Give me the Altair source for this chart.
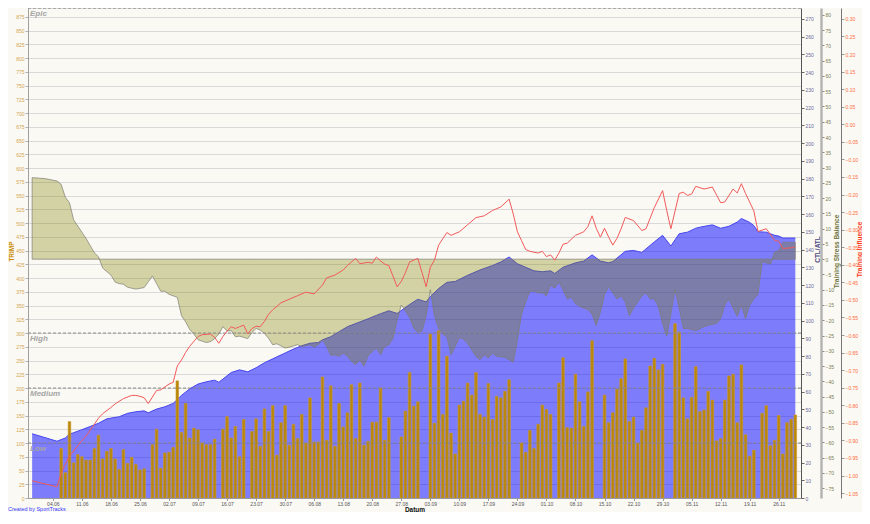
import altair as alt
import pandas as pd

YEAR = 2012

# ---------------- data ----------------
# daily TRIMP from 06-06 to 11-30 (0 = rest day, no bar)
trimp_start = "2012-06-06"
trimp = [
    # June 6..30
    90, 46, 139, 64, 79, 75, 69, 69, 90, 114, 71, 85, 90, 71, 52, 88, 63, 74, 61, 51, 53, 0, 97, 125, 54,
    # July
    82, 83, 92, 213, 119, 172, 109, 127, 124, 100, 97, 97, 107, 0, 125, 148, 109, 130, 75, 143, 0,
    121, 144, 94, 162, 121, 168, 78, 137, 168, 96,
    # August
    134, 108, 152, 100, 182, 102, 102, 220, 105, 204, 94, 172, 129, 155, 206, 108, 209, 96, 103, 138,
    138, 200, 105, 146, 0, 0, 111, 158, 228, 167, 175,
    # September
    0, 0, 298, 136, 304, 152, 258, 118, 80, 169, 176, 209, 187, 228, 152, 147, 208, 143, 185, 182,
    194, 215, 0, 0, 100, 83, 123, 90, 134, 169,
    # October
    161, 152, 0, 209, 255, 128, 127, 225, 175, 130, 193, 286, 0, 0, 187, 137, 155, 198, 217, 253,
    139, 147, 100, 123, 164, 240, 254, 233, 243, 0, 0,
    # November
    317, 302, 182, 144, 183, 239, 157, 160, 194, 178, 104, 108, 178, 222, 225, 137, 242, 115, 76, 87,
    0, 154, 168, 95, 105, 150, 80, 137, 143, 151,
]

ctl_days = ["05-30", "06-05", "06-07", "06-08", "06-09", "06-11", "06-13", "06-15", "06-17", "06-20",
            "06-22", "06-24", "06-26", "06-27", "06-29", "07-01", "07-03", "07-04", "07-05", "07-07",
            "07-09", "07-11", "07-13", "07-14", "07-15", "07-16", "07-17", "07-19", "07-21", "07-23",
            "07-25", "07-27", "07-30", "08-01", "08-03", "08-05", "08-07", "08-08", "08-10", "08-12",
            "08-14", "08-17", "08-19", "08-21", "08-22", "08-24", "08-26", "08-29", "08-31", "09-02",
            "09-03", "09-05", "09-07", "09-09", "09-12", "09-15", "09-18", "09-20", "09-22", "09-24",
            "09-26", "09-28", "09-30", "10-02", "10-03", "10-05", "10-08", "10-10", "10-12", "10-14",
            "10-16", "10-17", "10-20", "10-22", "10-24", "10-27", "10-29", "10-31", "11-02", "11-04",
            "11-06", "11-07", "11-10", "11-12", "11-14", "11-16", "11-17", "11-19", "11-20", "11-21",
            "11-23", "11-25", "11-26", "11-27", "11-30"]
ctl = [36.2, 32.0, 33.8, 36.0, 36.8, 38.5, 40.3, 42.1, 44.6, 45.8,
       47.7, 48.6, 49.1, 48.0, 50.1, 51.4, 53.3, 55.5, 57.8, 61.5,
       64.2, 65.5, 66.4, 65.2, 67.0, 68.9, 70.7, 72.2, 71.1, 73.4,
       76.2, 78.4, 81.7, 83.9, 85.8, 87.2, 87.6, 89.1, 90.9, 93.7,
       96.5, 99.2, 101.0, 102.9, 103.8, 105.5, 104.0, 109.0, 112.0, 110.5,
       113.5, 118.0, 121.5, 122.0, 125.5, 128.5, 131.0, 133.0, 135.8, 132.0,
       130.0, 128.0, 127.5, 128.0, 126.5, 130.0, 132.5, 133.5, 137.0, 133.5,
       132.5, 133.2, 139.0, 139.5, 138.4, 144.3, 148.0, 142.0, 148.9, 149.8,
       152.0, 152.6, 153.9, 152.0, 153.1, 155.5, 157.5, 155.3, 153.5, 150.0,
       149.8, 148.0, 147.6, 146.5, 146.5]

atl_days = ["05-30", "06-05", "06-06", "06-07", "06-08", "06-10", "06-12", "06-14", "06-15", "06-16",
            "06-18", "06-19", "06-21", "06-23", "06-24", "06-25", "06-26", "06-27", "06-28", "06-29",
            "06-30", "07-02", "07-03", "07-04", "07-05", "07-06", "07-07", "07-09", "07-10", "07-12",
            "07-13", "07-14", "07-15", "07-16", "07-17", "07-18", "07-19", "07-20", "07-21", "07-22",
            "07-23", "07-24", "07-25", "07-26", "07-27", "07-29", "07-31", "08-02", "08-04", "08-06",
            "08-08", "08-09", "08-11", "08-13", "08-14", "08-16", "08-17", "08-19", "08-20", "08-21",
            "08-22", "08-23", "08-24", "08-25", "08-26", "08-27", "08-28", "08-29", "08-30", "08-31",
            "09-01", "09-02", "09-03", "09-04", "09-05", "09-07", "09-08", "09-10", "09-12", "09-14",
            "09-16", "09-18", "09-20", "09-22", "09-23", "09-24", "09-25", "09-26", "09-27", "09-29",
            "09-30", "10-01", "10-02", "10-03", "10-04", "10-05", "10-06", "10-08", "10-10", "10-11",
            "10-12", "10-13", "10-14", "10-15", "10-16", "10-17", "10-18", "10-19", "10-20", "10-22",
            "10-24", "10-25", "10-27", "10-29", "10-30", "10-31", "11-02", "11-03", "11-04", "11-05",
            "11-06", "11-08", "11-10", "11-12", "11-13", "11-15", "11-16", "11-17", "11-18", "11-20",
            "11-21", "11-23", "11-25", "11-26", "11-27", "11-29", "11-30"]
atl = [9.7, 6.3, 14.0, 19.0, 23.5, 29.5, 35.0, 41.5, 45.0, 47.5,
       51.0, 53.0, 56.0, 57.8, 57.8, 57.3, 56.5, 53.2, 56.9, 60.6,
       60.9, 64.2, 65.2, 74.4, 77.7, 82.0, 85.5, 91.0, 92.0, 92.4,
       90.5, 87.2, 91.0, 94.0, 96.5, 95.5, 96.5, 97.4, 92.5, 95.5,
       96.8, 96.5, 99.5, 103.5, 106.0, 110.0, 112.0, 114.0, 116.0, 115.0,
       120.0, 124.0, 125.6, 128.5, 131.0, 135.0, 132.0, 132.8, 132.3, 135.8,
       133.6, 131.8, 131.0, 125.0, 119.0, 122.0, 127.0, 133.0, 134.0, 135.0,
       127.0, 119.0, 130.0, 134.0, 142.5, 149.6, 148.0, 150.0, 154.0, 158.0,
       159.0, 162.0, 164.0, 168.4, 160.0, 150.0, 145.0, 140.0, 139.0, 138.0,
       139.0, 136.0, 137.0, 134.0, 138.0, 143.0, 143.6, 148.0, 150.0, 153.0,
       159.0, 152.0, 147.0, 152.0, 147.0, 142.5, 146.3, 151.7, 158.1, 156.3,
       150.7, 151.7, 163.6, 173.2, 162.0, 151.7, 171.6, 172.3, 170.5, 171.3,
       175.6, 174.1, 175.2, 166.4, 166.8, 174.1, 171.9, 177.1, 171.6, 161.8,
       150.2, 151.7, 145.2, 144.7, 140.6, 141.0, 141.5]

tsb_days = ["05-30", "06-02", "06-05", "06-06", "06-07", "06-08", "06-09", "06-11", "06-12", "06-14",
            "06-15", "06-16", "06-18", "06-19", "06-20", "06-21", "06-22", "06-24", "06-26", "06-27",
            "06-28", "06-29", "06-30", "07-01", "07-02", "07-03", "07-04", "07-05", "07-06", "07-07",
            "07-08", "07-09", "07-11", "07-12", "07-13", "07-14", "07-15", "07-16", "07-17", "07-18",
            "07-19", "07-20", "07-21", "07-22", "07-23", "07-24", "07-25", "07-26", "07-27", "07-28",
            "07-30", "07-31", "08-02", "08-03", "08-05", "08-06", "08-07", "08-08", "08-09", "08-10",
            "08-11", "08-12", "08-13", "08-14", "08-15", "08-16", "08-17", "08-18", "08-19", "08-20",
            "08-21", "08-22", "08-23", "08-24", "08-25", "08-26", "08-27", "08-28", "08-29", "08-30",
            "08-31", "09-01", "09-02", "09-03", "09-04", "09-05", "09-06", "09-07", "09-08", "09-09",
            "09-10", "09-11", "09-12", "09-13", "09-14", "09-15", "09-16", "09-17", "09-18", "09-19",
            "09-21", "09-22", "09-23", "09-24", "09-25", "09-26", "09-27", "09-28", "09-29", "09-30",
            "10-01", "10-02", "10-03", "10-04", "10-05", "10-06", "10-07", "10-08", "10-09", "10-10",
            "10-11", "10-12", "10-13", "10-14", "10-15", "10-16", "10-17", "10-18", "10-19", "10-20",
            "10-21", "10-22", "10-23", "10-24", "10-25", "10-26", "10-27", "10-28", "10-29", "10-30",
            "10-31", "11-01", "11-02", "11-03", "11-04", "11-06", "11-08", "11-09", "11-11", "11-12",
            "11-13", "11-14", "11-15", "11-16", "11-17", "11-18", "11-19", "11-20", "11-21", "11-22",
            "11-23", "11-24", "11-25", "11-26", "11-27", "11-30"]
tsb = [26.7, 26.4, 25.6, 24.5, 20.3, 18.5, 12.9, 8.8, 6.8, 2.1,
       0.8, -2.9, -5.2, -7.5, -8.0, -8.2, -9.2, -9.8, -9.3, -7.4,
       -5.5, -8.0, -10.5, -10.5, -11.5, -12.0, -12.5, -18.5, -20.5, -23.0,
       -24.5, -26.4, -27.3, -27.0, -26.0, -24.5, -22.1, -23.5, -23.4, -25.4,
       -25.2, -25.6, -26.0, -24.0, -22.7, -23.2, -24.3, -25.9, -28.0, -27.7,
       -29.1, -28.8, -28.0, -28.6, -28.0, -28.8, -28.0, -26.4, -28.5, -31.5,
       -31.3, -31.8, -30.7, -31.8, -33.4, -34.5, -32.9, -35.0, -31.6, -30.2,
       -29.0, -31.3, -28.6, -28.0, -26.0, -20.0, -15.0, -17.0, -19.0, -22.5,
       -24.0, -23.5, -18.5, -10.0, -18.5, -22.7, -24.5, -25.4, -31.3, -28.6,
       -25.6, -26.2, -27.5, -29.7, -31.8, -32.9, -31.3, -32.3, -30.7, -31.8,
       -32.1, -32.9, -33.7, -26.4, -17.9, -14.0, -10.5, -10.5, -11.0, -11.0,
       -12.0, -8.5, -9.5, -7.5, -10.0, -13.0, -12.5, -14.5, -15.5, -16.0,
       -16.5, -18.0, -21.7, -17.4, -11.5, -9.0, -11.0, -13.0, -12.0, -14.0,
       -18.5, -16.0, -14.0, -12.0, -11.0, -13.0, -13.0, -15.5, -21.0, -25.2,
       -17.9, -10.0, -16.0, -22.7, -22.7, -23.4, -22.1, -21.6, -21.1, -19.5,
       -15.0, -13.0, -16.0, -18.7, -15.0, -19.5, -15.0, -13.0, -11.5, -0.8,
       -1.2, -1.6, 2.3, 2.7, 5.5, 5.5]

week_ticks = ["06-04", "06-11", "06-18", "06-25", "07-02", "07-09", "07-16", "07-23", "07-30",
              "08-06", "08-13", "08-20", "08-27", "09-03", "09-10", "09-17", "09-24", "10-01",
              "10-08", "10-15", "10-22", "10-29", "11-05", "11-12", "11-19", "11-26"]
trimp_ticks = list(range(0, 876, 25))
ctl_ticks = list(range(0, 271, 10))
tsb_ticks = list(range(-75, 81, 5))
infl_ticks = [-1.05, -1.00, -0.95, -0.90, -0.85, -0.80, -0.75, -0.70, -0.65, -0.60, -0.55, -0.50,
              -0.45, -0.40, -0.35, -0.30, -0.25, -0.20, -0.15, -0.10, -0.05, 0.00, 0.05, 0.10,
              0.15, 0.20, 0.25, 0.30]
zone_names = ["Low", "Medium", "High", "Epic"]
zone_values = [100, 200, 300, 891]
credit = ["Created by SportTracks"]

# ---------------- tables ----------------
bars_df = pd.DataFrame({
    "date": pd.date_range(trimp_start, periods=len(trimp), freq="D").strftime("%Y-%m-%d"),
    "trimp": trimp,
})
bars_df = bars_df[bars_df["trimp"] > 0]
ctl_df = pd.DataFrame({"date": [f"{YEAR}-{d}" for d in ctl_days], "v": ctl})
atl_df = pd.DataFrame({"date": [f"{YEAR}-{d}" for d in atl_days], "v": atl})
tsb_df = pd.DataFrame({"date": [f"{YEAR}-{d}" for d in tsb_days], "v": tsb})
zone_df = pd.DataFrame({"name": zone_names, "v": zone_values})
infl_df = pd.DataFrame({"v": infl_ticks})
credit_df = pd.DataFrame({"t": credit})

FONT = "Liberation Sans"
PLOT_W = 773
PLOT_H = 490
TITLE_Y = 243

# ---------------- scales / axes ----------------
x_scale = alt.Scale(type="utc", domain=[
    alt.DateTime(year=YEAR, month=5, date=30, hours=5, utc=True),
    alt.DateTime(year=YEAR, month=11, date=30, hours=4, utc=True)])
x_axis = alt.Axis(
    values=[alt.DateTime(year=YEAR, month=int(t[:2]), date=int(t[3:]), utc=True) for t in week_ticks],
    labelExpr="utcFormat(datum.value, '%d.%m')", labelFontSize=5, labelColor="#555555",
    labelPadding=0.5, tickSize=2.5, tickColor="#9a9a9a", domainColor="#9a9a9a", grid=False,
    labelOverlap=False, labelFlush=False, title="Datum", titleFontSize=6.5, titleFontWeight="bold",
    titleColor="#111111", titleY=11, titleBaseline="middle", labelFont=FONT, titleFont=FONT)


def X():
    return alt.X("date:T", scale=x_scale, axis=x_axis)


trimp_scale = alt.Scale(domain=[0, 891.2], nice=False, zero=False)
ctl_scale = alt.Scale(domain=[0, 276.1], nice=False, zero=False)
tsb_scale = alt.Scale(domain=[-78.2, 82.25], nice=False, zero=False)
infl_scale = alt.Scale(domain=[-1.064, 0.331], nice=False, zero=False)

common = dict(labelFontSize=5, labelPadding=1, tickSize=3, labelOverlap=False, labelFlush=False,
              titleFontSize=6.5, titleFontWeight="bold", titleAngle=270, titleAlign="center",
              titleBaseline="middle", labelFont=FONT, titleFont=FONT)

trimp_axis = alt.Axis(orient="left", values=trimp_ticks, title="TRIMP", titleColor="#c98a00",
                      titleX=-17, titleY=TITLE_Y, labelColor="#d4a550", tickColor="#b0b0b0",
                      domainColor="#a0a0a0", grid=True, gridColor="#d9d9d9", gridWidth=1, **common)
ctl_axis = alt.Axis(orient="right", offset=0, values=ctl_ticks, title="CTL/ATL", titleColor="#4c4c80",
                    titleX=16, titleY=TITLE_Y - 2, labelColor="#6a6a9a", tickColor="#666666",
                    domainColor="#555555", grid=False, **common)
tsb_axis = alt.Axis(orient="right", offset=20, values=tsb_ticks, title="Training Stress Balance",
                    titleColor="#6e7340", titleX=15, titleY=TITLE_Y, labelColor="#7a7d55",
                    tickColor="#888888", domainColor="#b4b4b4", domainWidth=2.5, grid=False, **common)
infl_axis = alt.Axis(orient="right", offset=40, values=infl_ticks, format=".2f",
                     title="Training Influence", titleColor="#ff3a1a", titleX=18, titleY=TITLE_Y - 2,
                     labelColor="#ff6b3d", tickColor="#999999", domainColor="#777777", grid=False,
                     **common)

# ---------------- layers ----------------
ctl_area = alt.Chart(ctl_df).mark_area(
    fill="#0000ff", fillOpacity=0.5, clip=True,
    line={"color": "#4646f0", "strokeWidth": 1}
).encode(x=X(), y=alt.Y("v:Q", scale=ctl_scale, axis=ctl_axis))

tsb_area = alt.Chart(tsb_df).mark_area(
    fill="#808000", fillOpacity=0.32, stroke="#7c7c70", strokeWidth=0.7, clip=True
).encode(x=X(), y=alt.Y("v:Q", scale=tsb_scale, axis=tsb_axis), y2=alt.datum(0))

bars = alt.Chart(bars_df).mark_bar(
    size=2.6, fill="#b8860b", stroke="#cf9a2a", strokeWidth=0.6, clip=True
).encode(x=X(), y=alt.Y("trimp:Q", scale=trimp_scale, axis=trimp_axis))

zone_rules = alt.Chart(zone_df).mark_rule(
    color="#8a8a8a", strokeDash=[3, 2], strokeWidth=1
).encode(y=alt.Y("v:Q", scale=trimp_scale, axis=None))

zone_text = alt.Chart(zone_df).mark_text(
    align="left", baseline="top", dx=2, dy=1.5, fontSize=8, fontStyle="italic",
    fontWeight="bold", color="#a6a6a6", font=FONT
).encode(y=alt.Y("v:Q", scale=trimp_scale, axis=None), x=alt.value(0), text="name:N")

atl_line = alt.Chart(atl_df).mark_line(
    color="#f25a5a", strokeWidth=1, clip=True
).encode(x=X(), y=alt.Y("v:Q", scale=ctl_scale, axis=None))

infl_dummy = alt.Chart(infl_df).mark_point(opacity=0).encode(
    y=alt.Y("v:Q", scale=infl_scale, axis=infl_axis))

credit_text = alt.Chart(credit_df).mark_text(
    align="left", baseline="middle", fontSize=5.5, color="#3535ff", font=FONT
).encode(x=alt.value(-20), y=alt.value(PLOT_H + 11), text="t:N")

chart = alt.layer(
    ctl_area, tsb_area, bars, zone_rules, zone_text, atl_line, infl_dummy, credit_text
).resolve_scale(y="independent").resolve_axis(y="independent").properties(
    width=PLOT_W, height=PLOT_H,
    autosize=alt.AutoSizeParams(type="none"),
    padding={"left": 20, "top": 0, "right": 61, "bottom": 14},
    background="#faf9f4",
).configure_view(stroke=None).configure(font=FONT)

chart.save("out.html", embed_options={"renderer": "svg", "actions": False})
